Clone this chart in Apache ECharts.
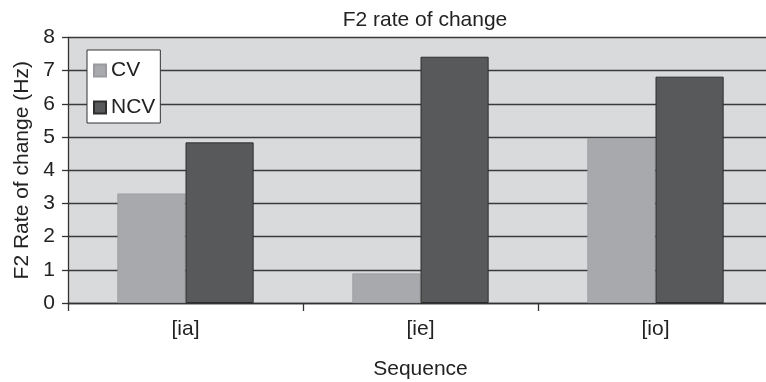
<!DOCTYPE html>
<html>
<head>
<meta charset="utf-8">
<script src="https://cdn.jsdelivr.net/npm/echarts@6/dist/echarts.min.js"></script>
<style>html,body{margin:0;padding:0;background:#fff}#c{width:766px;height:382px}</style>
</head>
<body>
<div id="c"></div>
<script>
const categories = ['[ia]', '[ie]', '[io]'];
const cvValues = [3.30, 0.89, 4.97];
const ncvValues = [4.84, 7.42, 6.82];
const yTicks = [0, 1, 2, 3, 4, 5, 6, 7, 8];

const font = 'Liberation Sans, Arial, sans-serif';
const chart = echarts.init(document.getElementById('c'), null, {renderer: 'canvas'});
chart.setOption({
  animation: false,
  backgroundColor: '#ffffff',
  title: {
    text: 'F2 rate of change',
    left: 420, top: 5, textAlign: 'center',
    textStyle: {fontFamily: font, fontSize: 21, fontWeight: 'normal', color: '#222'}
  },
  legend: {
    orient: 'vertical',
    left: 87, top: 50,
    backgroundColor: '#ffffff',
    borderColor: '#333', borderWidth: 1,
    padding: [10, 5, 5, 6],
    itemWidth: 12, itemHeight: 12, itemGap: 16,
    icon: 'rect',
    textStyle: {fontFamily: font, fontSize: 21, color: '#222', lineHeight: 21},
    data: ['CV', 'NCV']
  },
  grid: {left: 68, top: 37.5, width: 705, height: 265.5, show: true, backgroundColor: '#d9dadc', borderWidth: 0,
         outerBoundsMode: 'none', containLabel: false},
  xAxis: {
    type: 'category', data: categories,
    name: 'Sequence', nameLocation: 'middle', nameGap: 56,
    nameTextStyle: {fontFamily: font, fontSize: 21, color: '#222'},
    axisLine: {lineStyle: {color: '#333', width: 1.3}},
    axisTick: {show: true, length: 8, lineStyle: {color: '#333', width: 1.3}},
    axisLabel: {fontFamily: font, fontSize: 21, color: '#222', margin: 16}
  },
  yAxis: {
    type: 'value', min: 0, max: 8, interval: 1,
    name: 'F2 Rate of change (Hz)', nameLocation: 'middle', nameGap: 33,
    nameTextStyle: {fontFamily: font, fontSize: 21, color: '#222'},
    axisLine: {show: true, lineStyle: {color: '#333', width: 1.3}},
    axisTick: {show: true, length: 6, lineStyle: {color: '#333', width: 1.3}},
    axisLabel: {fontFamily: font, fontSize: 21, color: '#222', margin: 13,
      formatter: v => yTicks.includes(v) ? String(v) : ''},
    splitLine: {show: true, lineStyle: {color: '#3a3a3a', width: 1.3}}
  },
  series: [
    {name: 'CV', type: 'bar', data: cvValues, barGap: '0%', barCategoryGap: '42%',
     itemStyle: {color: '#a8a9ac', borderColor: '#9a9b9e', borderWidth: 0.8}},
    {name: 'NCV', type: 'bar', data: ncvValues,
     itemStyle: {color: '#58595b', borderColor: '#2e2e2e', borderWidth: 1}}
  ]
});
</script>
</body>
</html>
